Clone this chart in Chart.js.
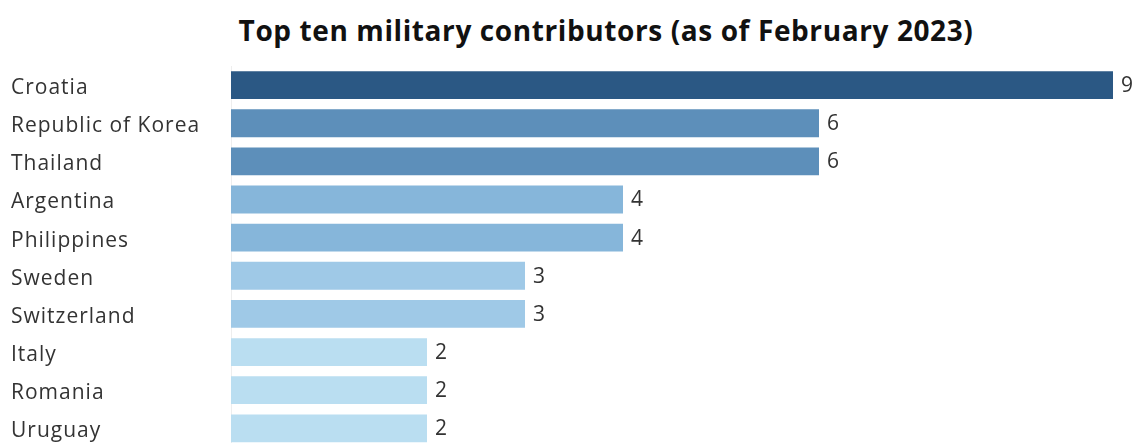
<!DOCTYPE html>
<html>
<head>
<meta charset="utf-8">
<script src="https://cdn.jsdelivr.net/npm/chart.js@4"></script>
<style>
  html, body { margin: 0; padding: 0; background: #fff; overflow: hidden; }
  #wrap { position: relative; width: 1137px; height: 443px; overflow: hidden; }
  #title {
    position: absolute; left: 0; top: 12px; width: 1212px;
    text-align: center; font: bold 28px "Open Sans", sans-serif; color: #111;
    line-height: 36px; letter-spacing: 0.6px;
  }
  #chart-box { position: absolute; left: 0; top: 0; width: 1137px; height: 460px; }
</style>
</head>
<body>
<div id="wrap">
  <div id="title">Top ten military contributors (as of February 2023)</div>
  <div id="chart-box"><canvas id="bars"></canvas></div>
</div>
<script>
const countries = ["Croatia", "Republic of Korea", "Thailand", "Argentina", "Philippines",
  "Sweden", "Switzerland", "Italy", "Romania", "Uruguay"];
const troops = [9, 6, 6, 4, 4, 3, 3, 2, 2, 2];

// sequential blue shades, by value
function shadeFor(v) {
  if (v >= 9) return "#2b5884";
  if (v >= 6) return "#5d8fba";
  if (v >= 4) return "#86b6da";
  if (v >= 3) return "#9fc9e7";
  return "#badef1";
}

// wider text spacing, like the source's font
const spacing = {
  id: "spacing",
  beforeDraw(chart) {
    chart.ctx.letterSpacing = "1px";
  },
};

const valueLabels = {
  id: "valueLabels",
  afterDatasetsDraw(chart) {
    const { ctx } = chart;
    const meta = chart.getDatasetMeta(0);
    ctx.save();
    ctx.font = "21px 'Open Sans', sans-serif";
    ctx.fillStyle = "#333";
    ctx.textBaseline = "middle";
    meta.data.forEach((bar, i) => {
      ctx.fillText(String(troops[i]), bar.x + 8, bar.y + 1);
    });
    ctx.restore();
  },
};

new Chart(document.getElementById("bars"), {
  type: "bar",
  data: {
    labels: countries,
    datasets: [{
      data: troops,
      backgroundColor: troops.map(shadeFor),
      borderWidth: 0,
      barPercentage: 0.73,
      categoryPercentage: 1,
    }],
  },
  options: {
    indexAxis: "y",
    responsive: true,
    maintainAspectRatio: false,
    animation: false,
    layout: { padding: { left: 11, right: 24, top: 66, bottom: 11 } },
    plugins: {
      legend: { display: false },
      tooltip: { enabled: false },
    },
    scales: {
      x: {
        display: false,
        min: 0,
        max: 9,
      },
      y: {
        afterFit(scale) { scale.width = 220; },
        grid: { display: false },
        border: { display: true, color: "#eeeeee" },
        ticks: {
          crossAlign: "far",
          padding: 0,
          labelOffset: 3,
          color: "#333",
          font: { family: "'Open Sans', sans-serif", size: 21 },
        },
      },
    },
  },
  plugins: [spacing, valueLabels],
});
</script>
</body>
</html>
